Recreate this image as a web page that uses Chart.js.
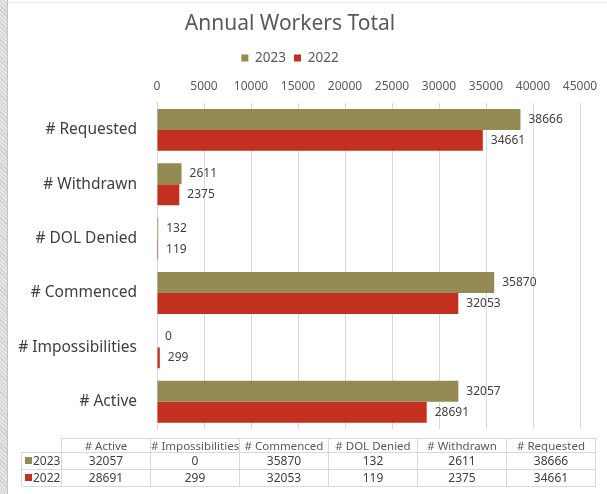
<!DOCTYPE html>
<html><head><meta charset="utf-8">
<script src="https://cdn.jsdelivr.net/npm/chart.js@4"></script>
<style>
html,body{margin:0;padding:0;background:#fff;}
#wrap{position:relative;width:607px;height:494px;overflow:hidden;background:#fff;}
#strip{position:absolute;left:0;top:0;width:7px;height:494px;background:repeating-linear-gradient(45deg,#cfcfcf 0 1px,#e4e4e4 1px 3px);border-right:1px solid #c4c4c4;}
#topline{position:absolute;left:8px;top:2px;right:0;height:1px;background:#eeeeee;}
#c{position:absolute;left:0;top:0;}
#tbl{position:absolute;left:21px;top:438px;border-collapse:collapse;font-family:"Noto Sans";font-size:11.5px;color:#404040;table-layout:fixed;width:575px;}
#tbl td{border:1px solid #d9d9d9;text-align:center;padding:0;white-space:nowrap;overflow:hidden;}
#tbl tr.h td{height:13px;line-height:13px;color:#595959;}
#tbl tr.d td{height:16px;line-height:16px;font-size:12px;}
#tbl td.k{text-align:left;padding-left:3px;}
#tbl td.blank{border:none;}
.sw{display:inline-block;width:7px;height:7px;margin-right:1px;vertical-align:1px;}
</style>
</head><body>
<div id="wrap">
<div id="strip"></div><div id="topline"></div>
<canvas id="c" width="607" height="494"></canvas>
<table id="tbl"></table>
</div>
<script>
const categories = ["# Active", "# Impossibilities", "# Commenced", "# DOL Denied", "# Withdrawn", "# Requested"];
const seriesNames = ["2023", "2022"];
const values2023 = [32057, 0, 35870, 132, 2611, 38666];
const values2022 = [28691, 299, 32053, 119, 2375, 34661];
const xTicks = [0, 5000, 10000, 15000, 20000, 25000, 30000, 35000, 40000, 45000];
const colors = ["#948a54", "#c3301f"];

const FONT = '"Noto Sans", sans-serif';

const valueLabels = {
  id: 'valueLabels',
  afterDatasetsDraw(chart) {
    const ctx = chart.ctx;
    ctx.save();
    ctx.font = '12px ' + FONT;
    ctx.fillStyle = '#404040';
    ctx.textBaseline = 'middle';
    ctx.textAlign = 'left';
    chart.data.datasets.forEach((ds, i) => {
      chart.getDatasetMeta(i).data.forEach((bar, j) => {
        ctx.fillText(String(ds.data[j]), bar.x + 8, bar.y);
      });
    });
    ctx.restore();
  }
};

new Chart(document.getElementById('c'), {
  type: 'bar',
  data: {
    labels: categories,
    datasets: [
      { label: seriesNames[0], data: values2023, backgroundColor: colors[0] },
      { label: seriesNames[1], data: values2022, backgroundColor: colors[1] }
    ]
  },
  options: {
    indexAxis: 'y',
    responsive: false,
    animation: false,
    devicePixelRatio: 1,
    layout: { padding: { left: 0, right: 27, top: 0, bottom: 65 } },
    datasets: { bar: { categoryPercentage: 0.77, barPercentage: 1.0 } },
    plugins: {
      title: {
        display: true, text: 'Annual Workers Total', color: '#595959',
        font: { family: FONT, size: 21, weight: 'normal' },
        padding: { top: 11, bottom: 7 }
      },
      legend: {
        display: true, position: 'top',
        labels: { boxWidth: 7, boxHeight: 7, color: '#595959', font: { family: FONT, size: 13.5 }, padding: 8 }
      },
      tooltip: { enabled: false }
    },
    scales: {
      x: {
        position: 'top', min: 0, max: 45000,
        afterBuildTicks(scale) { scale.ticks = xTicks.map(v => ({ value: v })); },
        afterFit(scale) { scale.height = 28; },
        grid: { color: '#d9d9d9', drawTicks: false },
        border: { display: false },
        ticks: { color: '#595959', font: { family: FONT, size: 12 }, padding: 9, maxRotation: 0, autoSkip: false, callback: v => String(v) }
      },
      y: {
        reverse: true,
        afterFit(scale) { scale.width = 157; },
        grid: { display: false, drawTicks: false },
        border: { display: true, color: '#d9d9d9' },
        ticks: { color: '#404040', font: { family: FONT, size: 15.5 }, padding: 20 }
      }
    }
  },
  plugins: [valueLabels]
});

// data table built from the same arrays
const tbl = document.getElementById('tbl');
let html = '<colgroup><col style="width:40px">' + categories.map(() => '<col>').join('') + '</colgroup>';
html += '<tr class="h"><td class="blank"></td>' + categories.map(c => '<td>' + c + '</td>').join('') + '</tr>';
[values2023, values2022].forEach((vals, i) => {
  html += '<tr class="d"><td class="k"><span class="sw" style="background:' + colors[i] + '"></span>' + seriesNames[i] + '</td>' +
    vals.map(v => '<td>' + v + '</td>').join('') + '</tr>';
});
tbl.innerHTML = html;
</script>
</body></html>
